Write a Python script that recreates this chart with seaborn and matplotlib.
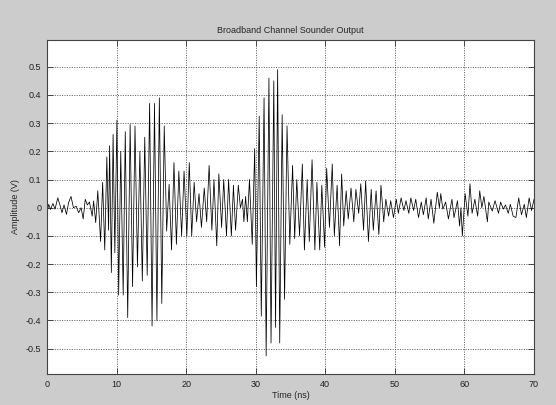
import matplotlib
matplotlib.use("Agg")
import matplotlib.pyplot as plt
import seaborn as sns
import pandas as pd

# Extremes of the sounder waveform (time in ns, amplitude in V)
time_ns = [
    0.0, 0.25, 0.5, 0.85, 1.15, 1.55, 1.9, 2.15, 2.45, 2.8, 3.1, 3.45, 3.8, 4.2,
    4.55, 4.9, 5.2, 5.5, 5.8, 6.1, 6.5, 6.7, 7.0, 7.3, 7.7, 8.0, 8.3, 8.6, 8.85,
    9.0, 9.25, 9.5, 9.75, 10.05, 10.3, 10.6, 10.95, 11.25, 11.6, 11.95, 12.3,
    12.65, 13.0, 13.35, 13.7, 14.05, 14.4, 14.75, 15.1, 15.45, 15.8, 16.15, 16.5,
    16.85, 17.2, 17.55, 17.9, 18.25, 18.6, 18.95, 19.35, 19.7, 20.1, 20.45, 20.8,
    21.15, 21.5, 21.85, 22.2, 22.6, 22.95, 23.3, 23.7, 24.0, 24.4, 24.7, 25.1,
    25.4, 25.8, 26.1, 26.5, 26.8, 27.1, 27.5, 27.8, 28.1, 28.3, 28.55, 28.8,
    29.1, 29.5, 29.85, 30.1, 30.5, 30.8, 31.2, 31.5, 31.9, 32.2, 32.6, 32.85,
    33.15, 33.45, 33.8, 34.15, 34.5, 34.9, 35.3, 35.6, 35.9, 36.3, 36.7, 37.0,
    37.4, 37.7, 38.1, 38.5, 38.8, 39.2, 39.5, 39.9, 40.2, 40.6, 41.0, 41.3,
    41.7, 42.05, 42.35, 42.65, 43.0, 43.3, 43.7, 44.1, 44.4, 44.8, 45.1, 45.5,
    45.8, 46.2, 46.6, 46.9, 47.3, 47.7, 48.0, 48.4, 48.7, 49.1, 49.4, 49.8,
    50.2, 50.5, 50.9, 51.3, 51.6, 52.0, 52.3, 52.7, 53.0, 53.4, 53.8, 54.1,
    54.5, 54.8, 55.2, 55.6, 56.1, 56.4, 56.6, 56.9, 57.3, 57.7, 58.2, 58.5,
    59.0, 59.3, 59.5, 59.7, 60.1, 60.5, 60.8, 61.1, 61.5, 61.9, 62.2, 62.5,
    62.8, 63.3, 63.5, 64.0, 64.4, 64.9, 65.2, 65.6, 65.9, 66.3, 66.6, 67.0,
    67.4, 67.8, 68.2, 68.6, 68.9, 69.3, 69.65, 70.0,
]
amplitude_v = [
    -0.018, 0.012, -0.006, 0.015, -0.005, 0.035, 0.006, -0.018, 0.01, -0.024,
    0.018, 0.04, 0.0, 0.005, -0.018, 0.0, -0.04, 0.03, 0.01, 0.02, -0.03, 0.024,
    -0.053, 0.06, -0.12, 0.09, -0.15, 0.18, -0.08, 0.22, -0.23, 0.26, -0.16,
    0.31, -0.31, 0.2, -0.31, 0.27, -0.39, 0.295, -0.28, 0.29, -0.21, 0.2, -0.26,
    0.25, -0.24, 0.37, -0.42, 0.37, -0.40, 0.39, -0.34, 0.29, -0.083, 0.083,
    -0.15, 0.16, -0.13, 0.13, -0.1, 0.13, -0.1, 0.16, -0.1, 0.09, -0.05, 0.05,
    -0.07, 0.07, -0.05, 0.15, -0.08, 0.1, -0.135, 0.12, -0.07, 0.1, -0.1, 0.1,
    -0.1, 0.08, -0.08, 0.08, 0.0, 0.03, -0.05, 0.04, -0.05, 0.1, -0.13, 0.21,
    -0.28, 0.325, -0.385, 0.39, -0.526, 0.46, -0.48, 0.45, -0.425, 0.49, -0.48,
    0.33, -0.325, 0.29, -0.13, 0.15, -0.11, 0.1, -0.1, 0.155, -0.15, 0.1, -0.12,
    0.17, -0.15, 0.09, -0.15, 0.08, -0.14, 0.14, -0.07, 0.155, -0.1, 0.08,
    -0.135, 0.12, -0.065, 0.06, -0.04, 0.07, -0.05, 0.065, -0.02, 0.085, -0.08,
    0.095, -0.12, 0.065, -0.08, 0.06, -0.095, 0.08, -0.05, 0.03, -0.03, 0.025,
    -0.035, 0.03, -0.02, 0.035, -0.01, 0.025, -0.02, 0.035, -0.01, 0.03, -0.035,
    0.02, -0.025, 0.035, -0.04, 0.03, -0.055, 0.055, 0.0, 0.05, -0.005, 0.02,
    -0.04, 0.03, -0.035, 0.025, -0.065, 0.0, -0.1, 0.05, -0.03, 0.085, -0.02,
    0.03, -0.03, 0.06, 0.0, 0.04, -0.05, 0.02, -0.012, 0.025, -0.02, 0.02,
    -0.005, 0.01, -0.02, 0.012, -0.03, -0.035, 0.035, -0.025, 0.012, -0.035,
    0.035, -0.01, 0.03,
]

x_ticks = [0, 10, 20, 30, 40, 50, 60, 70]
y_ticks = [-0.5, -0.4, -0.3, -0.2, -0.1, 0, 0.1, 0.2, 0.3, 0.4, 0.5]
y_tick_labels = ["-0.5", "-0.4", "-0.3", "-0.2", "-0.1", "0",
                 "0.1", "0.2", "0.3", "0.4", "0.5"]

sns.set_style("ticks")
plt.rcParams["font.family"] = ["Liberation Sans", "DejaVu Sans"]
plt.rcParams["axes.unicode_minus"] = False

df = pd.DataFrame({"Time (ns)": time_ns, "Amplitude (V)": amplitude_v})

fig = plt.figure(figsize=(5.56, 4.05), dpi=100, facecolor="#cccccc")
ax = fig.add_axes([47 / 556, 1 - 374 / 405, (534 - 47) / 556, (374 - 40) / 405])
ax.set_facecolor("white")

sns.lineplot(data=df, x="Time (ns)", y="Amplitude (V)", ax=ax,
             color="black", linewidth=0.55, estimator=None, sort=False)

ax.set_xlim(0, 70)
ax.set_ylim(-0.59, 0.595)
ax.set_xticks(x_ticks)
ax.set_xticklabels([str(v) for v in x_ticks])
ax.set_yticks(y_ticks)
ax.set_yticklabels(y_tick_labels)

ax.grid(True, color="#222222", linestyle=(0, (1.5, 2)), linewidth=0.5)
ax.tick_params(direction="in", length=4, width=0.6, labelsize=6.5,
               top=True, right=True, colors="#333333", labelcolor="#222222", pad=4)
for s in ax.spines.values():
    s.set_color("#444444")
    s.set_linewidth(0.8)

ax.set_title("Broadband Channel Sounder Output", fontsize=6.5, pad=5)
ax.set_xlabel("Time (ns)", fontsize=6.5, labelpad=2)
ax.set_ylabel("Amplitude (V)", fontsize=6.5, labelpad=4)

fig.savefig("out.png", dpi=100, facecolor=fig.get_facecolor())
